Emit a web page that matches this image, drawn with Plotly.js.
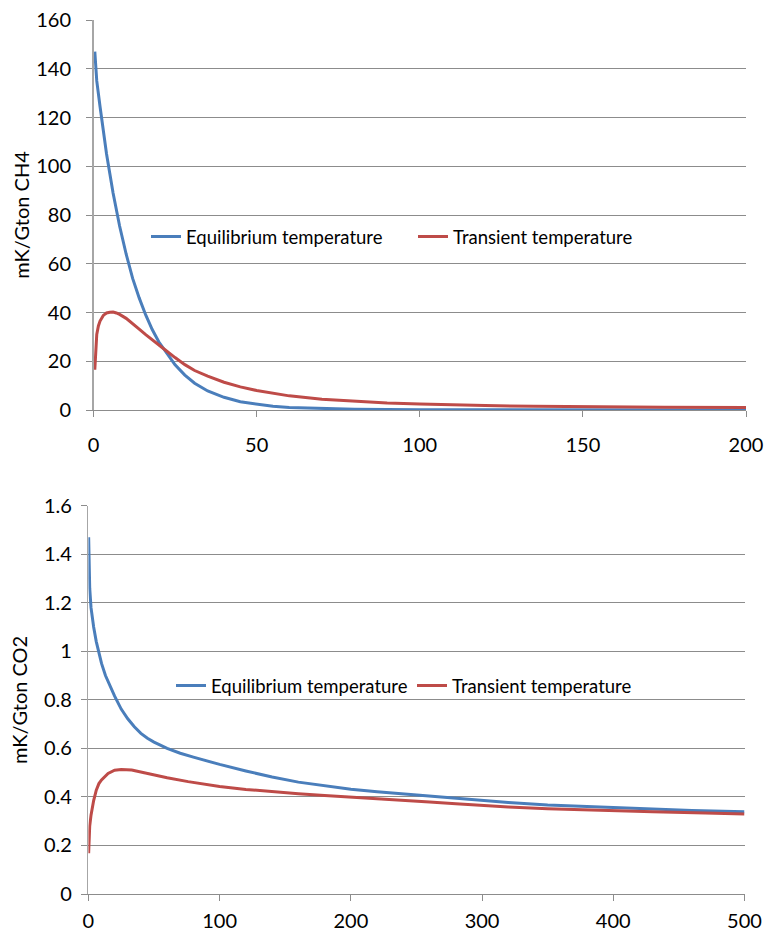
<!DOCTYPE html>
<html>
<head>
<meta charset="utf-8">
<script src="https://cdn.plot.ly/plotly-3.0.1.min.js"></script>
<style>html,body{margin:0;padding:0;background:#fff;}#chart{width:765px;height:936px;}</style>
</head>
<body>
<div id="chart"></div>
<script>
// Top panel: CH4
const ch4EqX = [0.4,1,2,3,4,5,6,8,10,12,14,16,18,20,22,25,28,31,35,40,45,50,55,60,70,80,100,150,200];
const ch4EqY = [147,135,124.5,114.5,105,97,89,75.5,64,54,46,39,33,28,24,18.5,14.3,11,7.8,5.2,3.4,2.3,1.5,1.0,0.5,0.3,0.15,0.05,0.02];
const ch4TrX = [0.4,0.7,1,1.5,2,3,4,5,6,7,8,10,12,14,16,18,20,22,25,28,31,35,40,45,50,55,60,70,80,90,100,110,120,135,150,175,200];
const ch4TrY = [16.5,26,31,34.5,36.5,38.8,39.8,40.1,40.2,39.8,39.2,37.6,35.5,33.2,30.9,28.7,26.7,24.6,21.5,18.6,16.2,13.9,11.4,9.5,8.0,6.8,5.8,4.4,3.5,2.9,2.5,2.1,1.8,1.5,1.3,1.1,1.0];

// Bottom panel: CO2
const co2EqX = [0.2,0.5,1,2,3,4,6,8,10,13,16,20,25,30,35,40,45,50,60,70,80,90,100,120,140,160,180,200,220,240,260,280,300,320,350,380,400,430,460,500];
const co2EqY = [1.47,1.36,1.26,1.18,1.13,1.10,1.04,0.99,0.95,0.90,0.86,0.815,0.762,0.722,0.689,0.662,0.642,0.626,0.60,0.58,0.564,0.548,0.534,0.507,0.482,0.461,0.445,0.432,0.421,0.412,0.403,0.394,0.385,0.377,0.367,0.36,0.355,0.349,0.344,0.339];
const co2TrX = [0.2,0.5,1,2,3,4,6,8,10,12,15,20,25,33,40,50,60,76,90,100,120,140,160,180,200,215,240,260,280,300,320,350,390,430,470,500];
const co2TrY = [0.168,0.24,0.28,0.325,0.36,0.385,0.428,0.455,0.47,0.482,0.497,0.51,0.513,0.511,0.502,0.49,0.479,0.463,0.452,0.443,0.431,0.421,0.413,0.406,0.400,0.395,0.386,0.379,0.372,0.365,0.359,0.351,0.344,0.339,0.334,0.330];

const names = ["Equilibrium temperature", "Transient temperature"];
const yTitles = ["mK/Gton CH4", "mK/Gton CO2"];
const blue = "#4A7EBB", red = "#BE4B48";
const FONT = "Lato, 'Open Sans', sans-serif";

const W = 765, H = 936;
const traces = [
  {x: ch4EqX, y: ch4EqY, name: names[0], mode: "lines", line: {color: blue, width: 3}, xaxis: "x", yaxis: "y", legend: "legend"},
  {x: ch4TrX, y: ch4TrY, name: names[1], mode: "lines", line: {color: red, width: 3}, xaxis: "x", yaxis: "y", legend: "legend"},
  {x: co2EqX, y: co2EqY, name: names[0], mode: "lines", line: {color: blue, width: 3}, xaxis: "x2", yaxis: "y2", legend: "legend2"},
  {x: co2TrX, y: co2TrY, name: names[1], mode: "lines", line: {color: red, width: 3}, xaxis: "x2", yaxis: "y2", legend: "legend2"}
];

const gridC = "#8c8c8c";
function xa(domain, range, dtick, anchor, standoff) {
  return {domain: domain, range: range, dtick: dtick, tick0: 0, anchor: anchor,
    showgrid: false, zeroline: false, showline: true, linecolor: gridC, linewidth: 1,
    ticks: "outside", ticklen: 6, tickcolor: gridC, ticklabelstandoff: standoff,
    tickfont: {family: FONT, size: 20, color: "#000"}, fixedrange: true};
}
function ya(domain, range, dtick, anchor, title, standoff, tstand) {
  return {domain: domain, range: range, dtick: dtick, tick0: 0, anchor: anchor,
    showgrid: true, gridcolor: gridC, gridwidth: 1, zeroline: false,
    showline: true, linecolor: "#a6a6a6", linewidth: 1.5,
    ticks: "outside", ticklen: 6, tickcolor: gridC, ticklabelstandoff: standoff,
    tickfont: {family: FONT, size: 20, color: "#000"},
    title: {text: title, font: {family: FONT, size: 20, color: "#000"}, standoff: tstand},
    fixedrange: true};
}

const layout = {
  width: W, height: H,
  margin: {l: 0, r: 0, t: 0, b: 0},
  paper_bgcolor: "#fff", plot_bgcolor: "#fff",
  font: {family: FONT, color: "#000"},
  xaxis: xa([93.5/W, 746/W], [0, 200], 50, "y", 11),
  yaxis: ya([(H-410)/H, (H-20)/H], [0, 160], 20, "x", yTitles[0], 11, 0.5),
  xaxis2: xa([88.4/W, 744.5/W], [0, 500], 100, "y2", 3),
  yaxis2: ya([(H-894)/H, (H-505.7)/H], [0, 1.6], 0.2, "x2", yTitles[1], 5, 10.5),
  legend: {orientation: "h", x: 146/W, xanchor: "left", y: (H-237)/H, yanchor: "middle",
    font: {family: FONT, size: 18.5, color: "#000"}, bgcolor: "rgba(0,0,0,0)", entrywidth: 222, itemwidth: 30},
  legend2: {orientation: "h", x: 171/W, xanchor: "left", y: (H-686)/H, yanchor: "middle",
    font: {family: FONT, size: 18.5, color: "#000"}, bgcolor: "rgba(0,0,0,0)", entrywidth: 196, itemwidth: 30},
  showlegend: true
};

Plotly.newPlot("chart", traces, layout, {staticPlot: true, displayModeBar: false});
</script>
</body>
</html>
